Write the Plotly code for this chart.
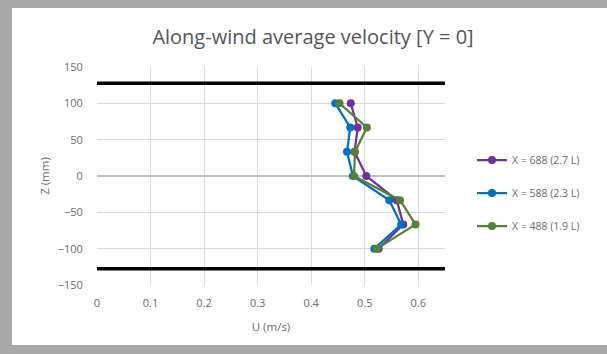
import plotly.graph_objects as go

# ---- data ----
Z_MM = [100, 66.7, 33.3, 0, -33.3, -66.7, -100]
U_688 = [0.474, 0.487, 0.481, 0.503, 0.560, 0.572, 0.526]
U_588 = [0.445, 0.473, 0.467, 0.478, 0.546, 0.568, 0.518]
U_488 = [0.453, 0.504, 0.482, 0.480, 0.566, 0.595, 0.523]
SERIES_NAMES = ["X = 688 (2.7 L)", "X = 588 (2.3 L)", "X = 488 (1.9 L)"]
WALL_Z = [127.5, -127.5]
WALL_U = [0, 0.65]
X_TICKS = [0, 0.1, 0.2, 0.3, 0.4, 0.5, 0.6]
Y_TICKS = [-150, -100, -50, 0, 50, 100, 150]

COLORS = ["#7030A0", "#0070C0", "#548235"]
FONT = "Open Sans, Liberation Sans, sans-serif"
TXT = "#6a6a6a"

fig = go.Figure()

for z in WALL_Z:
    fig.add_trace(go.Scatter(x=WALL_U, y=[z, z], mode="lines",
                             line=dict(color="#000000", width=3.5),
                             showlegend=False, hoverinfo="skip"))

for i, (name, u) in enumerate(zip(SERIES_NAMES, [U_688, U_588, U_488])):
    fig.add_trace(go.Scatter(
        x=u, y=Z_MM, mode="lines+markers", name=name,
        legendgroup=f"g{i}",
        line=dict(color=COLORS[i], width=2.25),
        marker=dict(color=COLORS[i], size=8),
    ))

# paper coordinates of the white card
L, R, T, B = 97, 445, 67, 285
W, H = R - L, B - T
def px_x(p): return (p - L) / W
def px_y(p): return (B - p) / H

fig.add_shape(type="rect", xref="paper", yref="paper", layer="below",
              x0=px_x(12), x1=px_x(607), y0=px_y(345), y1=px_y(8),
              fillcolor="#ffffff", line=dict(width=0))

fig.update_layout(
    width=607, height=354,
    margin=dict(l=L, r=607 - R, t=T, b=354 - B),
    paper_bgcolor="#a8a8a8",
    plot_bgcolor="rgba(0,0,0,0)",
    font=dict(family=FONT, color=TXT, size=11),
    title=dict(text="Along-wind average velocity [Y = 0]",
               xref="container", yref="container",
               x=313 / 607, xanchor="center", y=1 - 37 / 354, yanchor="middle",
               font=dict(size=20, color="#555555", family=FONT)),
    xaxis=dict(range=[0, 0.65], tickvals=X_TICKS,
               ticktext=[f"{v:g}" for v in X_TICKS],
               showgrid=True, gridcolor="#d9d9d9", gridwidth=1,
               zeroline=False, showline=False,
               ticks="outside", ticklen=8, tickcolor="rgba(0,0,0,0)",
               title=dict(text="U (m/s)", font=dict(size=11.5, color=TXT), standoff=13),
               tickfont=dict(size=11, color=TXT)),
    yaxis=dict(range=[-150, 150], tickvals=Y_TICKS,
               showgrid=True, gridcolor="#d9d9d9", gridwidth=1,
               zeroline=True, zerolinecolor="#bfbfbf", zerolinewidth=1.5,
               showline=False,
               ticks="outside", ticklen=11, tickcolor="rgba(0,0,0,0)",
               title=dict(text="Z (mm)", font=dict(size=11.5, color=TXT), standoff=5),
               tickfont=dict(size=11, color=TXT)),
    legend=dict(x=px_x(472), xanchor="left", y=px_y(193), yanchor="middle",
                traceorder="grouped", tracegroupgap=14,
                bgcolor="rgba(0,0,0,0)", font=dict(size=10.5, color=TXT)),
    showlegend=True,
)

fig.write_html("out.html")
